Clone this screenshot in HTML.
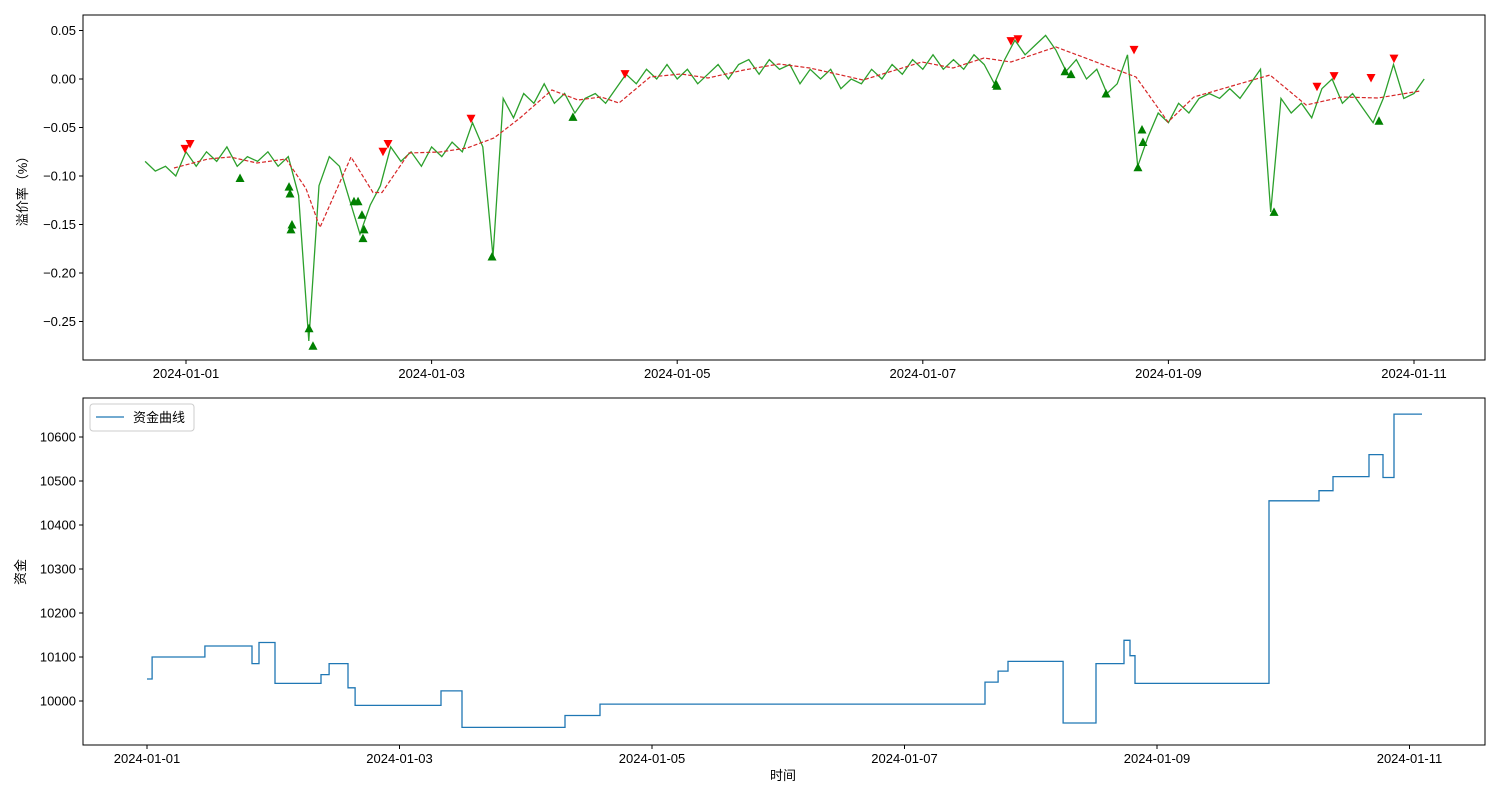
<!DOCTYPE html>
<html><head><meta charset="utf-8"><style>
body{margin:0;background:#fff}
svg text{font-family:"Liberation Sans","Noto Sans CJK SC",sans-serif;font-size:13px;fill:#000}
</style></head><body>
<svg id="c" width="1500" height="800" xmlns="http://www.w3.org/2000/svg"></svg>
<script>
const premiumValues=[-0.085,-0.095,-0.09,-0.1,-0.075,-0.09,-0.075,-0.085,-0.07,-0.09,-0.08,-0.085,-0.075,-0.09,-0.08,-0.12,-0.27,-0.11,-0.08,-0.09,-0.125,-0.16,-0.13,-0.11,-0.07,-0.085,-0.075,-0.09,-0.07,-0.08,-0.065,-0.075,-0.045,-0.07,-0.183,-0.02,-0.04,-0.015,-0.025,-0.005,-0.025,-0.015,-0.035,-0.02,-0.015,-0.025,-0.01,0.005,-0.005,0.01,0,0.015,0,0.01,-0.005,0.005,0.015,0,0.015,0.02,0.005,0.02,0.01,0.015,-0.005,0.01,0,0.01,-0.01,0,-0.005,0.01,0,0.015,0.005,0.02,0.01,0.025,0.01,0.02,0.01,0.025,0.015,-0.005,0.02,0.04,0.025,0.035,0.045,0.03,0.008,0.02,0,0.01,-0.015,-0.005,0.025,-0.09,-0.06,-0.035,-0.045,-0.025,-0.035,-0.02,-0.015,-0.02,-0.01,-0.02,-0.005,0.01,-0.137,-0.02,-0.035,-0.025,-0.04,-0.01,0,-0.025,-0.015,-0.03,-0.045,-0.02,0.015,-0.02,-0.015,0];
const premiumStartDay=-1/3, premiumStepDay=1/12;
const maDays=[-0.098,0.179,0.358,0.578,0.814,0.977,1.091,1.344,1.523,1.596,1.816,2.068,2.288,2.508,2.720,2.980,3.192,3.379,3.526,3.779,4.031,4.251,4.544,4.829,5.081,5.513,5.993,6.246,6.498,6.718,7.085,7.736,7.997,8.208,8.827,9.121,9.414,9.707,10.049];
const maValues=[-0.0918,-0.0825,-0.0804,-0.0866,-0.0825,-0.113,-0.153,-0.0804,-0.117,-0.117,-0.0763,-0.0753,-0.0711,-0.0608,-0.0402,-0.0113,-0.0216,-0.0186,-0.0247,0.0021,0.0052,0.0010,0.0093,0.0155,0.0113,-0.0010,0.0175,0.0113,0.0216,0.0175,0.0330,0.0021,-0.0443,-0.0186,0.0041,-0.0268,-0.0186,-0.0196,-0.0124];
const sellDays=[-0.008,0.033,1.604,1.645,2.321,3.575,6.718,6.775,7.72,9.21,9.349,9.650,9.837];
const sellValues=[-0.072,-0.067,-0.075,-0.067,-0.041,0.005,0.039,0.041,0.03,-0.008,0.003,0.001,0.021];
const buyDays=[0.440,0.839,0.847,0.863,0.855,1.002,1.034,1.368,1.401,1.433,1.450,1.441,2.492,3.151,6.596,6.604,7.158,7.207,7.492,7.752,7.785,7.793,8.860,9.715];
const buyValues=[-0.102,-0.111,-0.118,-0.15,-0.155,-0.257,-0.275,-0.126,-0.126,-0.14,-0.155,-0.164,-0.183,-0.039,-0.005,-0.007,0.008,0.005,-0.015,-0.091,-0.052,-0.065,-0.137,-0.043];
const equityDays=[0,0.040,0.459,0.832,0.887,1.014,1.378,1.442,1.592,1.648,2.329,2.495,3.311,3.588,6.638,6.741,6.820,7.256,7.517,7.739,7.786,7.826,8.887,9.283,9.394,9.679,9.790,9.877,10.099];
const equityValues=[10050,10100,10125,10085,10133,10040,10060,10085,10030,9990,10023,9940,9967,9993,10043,10068,10090,9950,10085,10138,10103,10040,10455,10478,10510,10560,10508,10652,10652];
const topYTicks=[0.05,0,-0.05,-0.1,-0.15,-0.2,-0.25];
const topYLabels=["0.05","0.00","−0.05","−0.10","−0.15","−0.20","−0.25"];
const botYTicks=[10000,10100,10200,10300,10400,10500,10600];
const xTickDays=[0,2,4,6,8,10];
const xTickLabels=["2024-01-01","2024-01-03","2024-01-05","2024-01-07","2024-01-09","2024-01-11"];

const NS="http://www.w3.org/2000/svg", svg=document.getElementById('c');
function mk(t,a,p){const e=document.createElementNS(NS,t);for(const k in a)e.setAttribute(k,a[k]);(p||svg).appendChild(e);return e;}
function lin(d0,d1,r0,r1){return v=>r0+(v-d0)/(d1-d0)*(r1-r0);}
const T={l:83,r:1485,t:15,b:360}, B={l:83,r:1485,t:398,b:745};
const tx=lin(0,1,186,308.8), ty=lin(0,0.05,79,30.5);
const bx=lin(0,1,147,273.25), by=lin(10000,10100,701,657);

function axes(P,xs,ys,yt,yl,nm){
  const g=mk('g',{});
  
  
  xTickDays.forEach((d,i)=>{const x=xs(d);mk('line',{x1:x,x2:x,y1:P.b,y2:P.b+4,stroke:'#000'},g);
    const t=mk('text',{x:x,y:P.b+18,'text-anchor':'middle'},g);t.textContent=xTickLabels[i];
    });
  yt.forEach((v,i)=>{const y=ys(v);mk('line',{x1:P.l-4,x2:P.l,y1:y,y2:y,stroke:'#000'},g);
    const t=mk('text',{x:P.l-7,y:y+4.5,'text-anchor':'end'},g);t.textContent=yl[i];
    });
}
function frame(P,nm){const r=mk('rect',{x:P.l,y:P.t,width:P.r-P.l,height:P.b-P.t,fill:'none',stroke:'#000','stroke-width':1});
  }
function clip(P,id){const c=mk('clipPath',{id:id});mk('rect',{x:P.l,y:P.t,width:P.r-P.l,height:P.b-P.t},c);}
clip(T,'ct');clip(B,'cb');

// top
axes(T,tx,ty,topYTicks,topYLabels,'premium');
let pts=premiumValues.map((v,i)=>tx(premiumStartDay+i*premiumStepDay).toFixed(1)+','+ty(v).toFixed(1)).join(' ');
let e=mk('polyline',{points:pts,fill:'none',stroke:'#2ca02c','stroke-width':1.3,'clip-path':'url(#ct)'});

pts=maDays.map((d,i)=>tx(d).toFixed(1)+','+ty(maValues[i]).toFixed(1)).join(' ');
e=mk('polyline',{points:pts,fill:'none',stroke:'#d62728','stroke-width':1.2,'stroke-dasharray':'4,2','clip-path':'url(#ct)'});

sellDays.forEach((d,i)=>{const x=tx(d),y=ty(sellValues[i]);
  const m=mk('polygon',{points:`${x-4.5},${y-4} ${x+4.5},${y-4} ${x},${y+4.5}`,fill:'#ff0000'});
  });
buyDays.forEach((d,i)=>{const x=tx(d),y=ty(buyValues[i]);
  const m=mk('polygon',{points:`${x-4.5},${y+4} ${x+4.5},${y+4} ${x},${y-4.5}`,fill:'#008000'});
  });
frame(T,'premium');
e=mk('text',{x:0,y:0,transform:'translate(27,188) rotate(-90)','text-anchor':'middle'});e.textContent='溢价率（%）';


// bottom
axes(B,bx,by,botYTicks,botYTicks.map(String),'equity');
let s='';equityDays.forEach((d,i)=>{const x=bx(d).toFixed(1),y=by(equityValues[i]).toFixed(1);
  if(i===0)s+=`M${x},${y}`;else s+=`H${x}V${y}`;});
e=mk('path',{d:s,fill:'none',stroke:'#1f77b4','stroke-width':1.3,'clip-path':'url(#cb)'});

frame(B,'equity');
e=mk('text',{x:0,y:0,transform:'translate(25,572) rotate(-90)','text-anchor':'middle'});e.textContent='资金';

e=mk('text',{x:783,y:780,'text-anchor':'middle'});e.textContent='时间';

const lg=mk('g',{});

mk('rect',{x:90,y:404,width:104,height:27,rx:3,fill:'#fff',stroke:'#ccc'},lg);
mk('line',{x1:96,x2:124,y1:417,y2:417,stroke:'#1f77b4','stroke-width':1.3},lg);
e=mk('text',{x:133,y:422},lg);e.textContent='资金曲线';

</script>
</body></html>
